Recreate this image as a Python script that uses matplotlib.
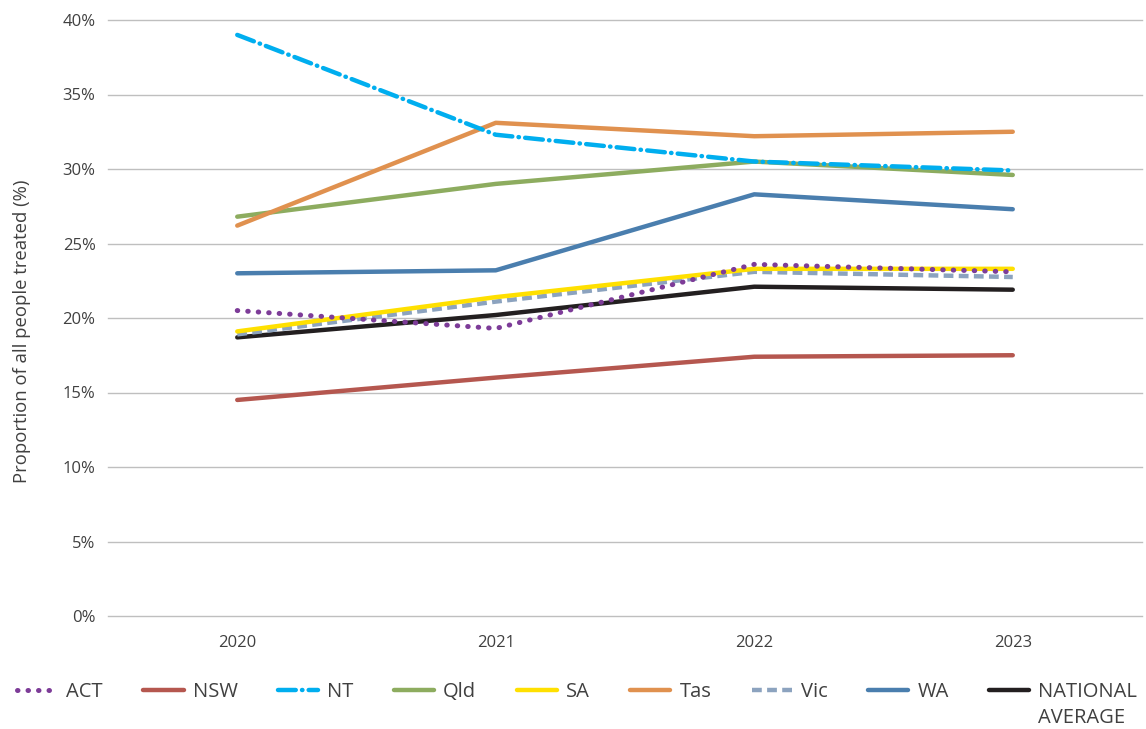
import matplotlib
matplotlib.use("Agg")
import matplotlib.pyplot as plt
from matplotlib.ticker import FuncFormatter

years = ["2020", "2021", "2022", "2023"]
act = [20.5, 19.3, 23.6, 23.1]
nsw = [14.5, 16.0, 17.4, 17.5]
nt = [39.0, 32.3, 30.5, 29.9]
qld = [26.8, 29.0, 30.5, 29.6]
sa = [19.1, 21.4, 23.3, 23.3]
tas = [26.2, 33.1, 32.2, 32.5]
vic = [18.9, 21.1, 23.1, 22.75]
wa = [23.0, 23.2, 28.3, 27.3]
national = [18.7, 20.2, 22.1, 21.9]
y_ticks = [0, 5, 10, 15, 20, 25, 30, 35, 40]

plt.rcParams['font.family'] = ['Open Sans', 'DejaVu Sans']

W, H = 1146, 729
fig = plt.figure(figsize=(W / 100, H / 100), dpi=100)
ax = fig.add_axes([108/W, 1-616/H, (1142-108)/W, (616-20)/H])

x = list(range(len(years)))
lw = 3.2
series = [
    ("ACT", act, "#7D3C98", dict(linestyle=(0, (0.1, 2.0)), dash_capstyle='round', linewidth=3.6)),
    ("NSW", nsw, "#B5574F", dict(linestyle='-', linewidth=lw)),
    ("NT", nt, "#00AEEF", dict(linestyle=(0, (4, 1.4, 0.1, 1.4)), dash_capstyle='round', linewidth=lw)),
    ("Qld", qld, "#8DAC5F", dict(linestyle='-', linewidth=lw)),
    ("SA", sa, "#FFE000", dict(linestyle='-', linewidth=lw)),
    ("Tas", tas, "#E0914F", dict(linestyle='-', linewidth=lw)),
    ("Vic", vic, "#8CA3BF", dict(linestyle=(0, (2.2, 1.2)), linewidth=lw)),
    ("WA", wa, "#4A7EAE", dict(linestyle='-', linewidth=lw)),
    ("NATIONAL", national, "#231F20", dict(linestyle='-', linewidth=lw)),
]
order = ["NSW", "Qld", "Tas", "WA", "NT", "NATIONAL", "Vic", "SA", "ACT"]
handles = {}
for name, vals, color, kw in series:
    z = 3 + order.index(name)
    (h,) = ax.plot(x, vals, color=color, solid_capstyle='round', zorder=z, label=name, **kw)
    handles[name] = h

ax.set_xlim(-0.5, 3.5)
ax.set_ylim(0, 40)
ax.set_yticks(y_ticks)
ax.yaxis.set_major_formatter(FuncFormatter(lambda v, p: f"{int(v)}%"))
ax.set_xticks(x)
ax.set_xticklabels(years)
ax.grid(axis='y', color='#BFBFBF', linewidth=1.0)
for gl in ax.get_ygridlines():
    gl.set_clip_on(False)
ax.set_axisbelow(True)
for s in ax.spines.values():
    s.set_visible(False)
ax.tick_params(axis='both', length=0, labelsize=12, colors='#404040')
ax.tick_params(axis='y', pad=9)
ax.tick_params(axis='x', pad=14)
ax.set_ylabel("Proportion of all people treated (%)", fontsize=13.3, color='#404040')
ax.yaxis.set_label_coords(-0.074, 0.478)

names = [s[0] for s in series]
leg = fig.legend([handles[n] for n in names], names, loc='center left',
                 bbox_to_anchor=(17 / W, 1 - 692 / H),
                 ncol=9, frameon=False, fontsize=14.5, handlelength=2.0, handletextpad=0.45,
                 columnspacing=2.0, labelcolor='#404040', borderaxespad=0, borderpad=0)

fig.canvas.draw()
renderer = fig.canvas.get_renderer()
nat_text = leg.get_texts()[-1]
bb = nat_text.get_window_extent(renderer)
fig.text(bb.x0 / W, (bb.y0 - 26) / H + (bb.height / H) / 2, "AVERAGE", fontsize=14.5,
         color='#404040', ha='left', va='center')

fig.savefig("out.png", dpi=100)
